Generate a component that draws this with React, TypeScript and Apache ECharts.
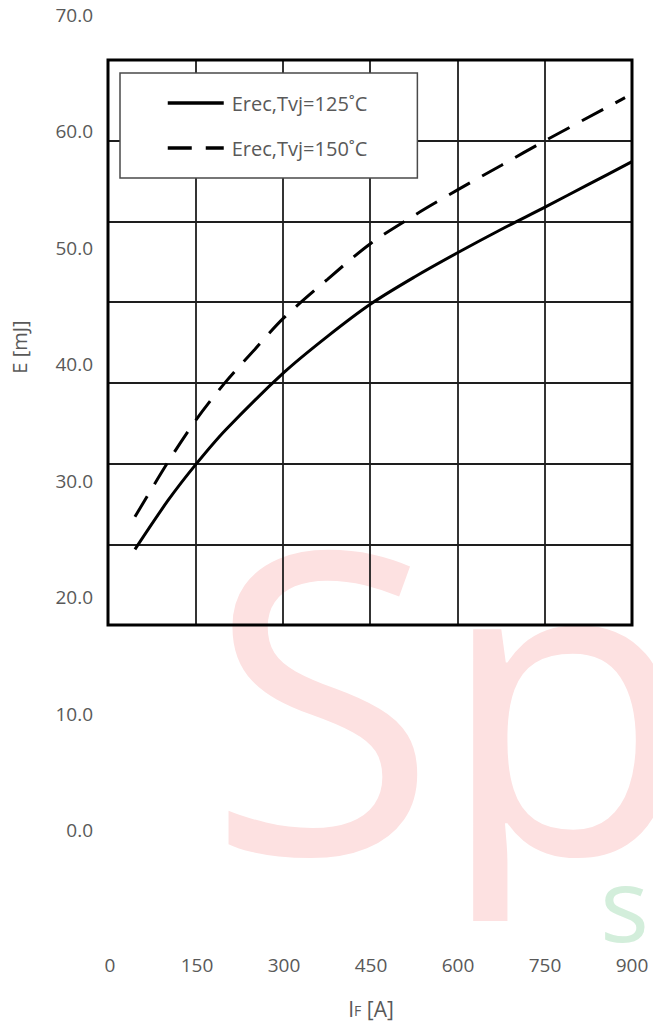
import React, { useEffect, useRef } from "react";
import * as echarts from "echarts";

// Forward current [A] and reverse recovery energy [mJ]
const current125 = [43, 100, 148, 200, 300, 375, 450, 525, 600, 675, 750, 825, 900];
const erec125 = [24.1, 28.3, 31.4, 34.4, 39.3, 42.4, 45.2, 47.5, 49.6, 51.6, 53.5, 55.45, 57.4];
const current150 = [43, 100, 148, 198, 250, 300, 375, 450, 525, 600, 675, 750, 888];
const erec150 = [26.9, 31.6, 35.2, 38.4, 41.3, 44.0, 47.3, 50.4, 52.8, 55.0, 57.1, 59.2, 62.9];

const seriesNames = ["Erec,Tvj=125˚C", "Erec,Tvj=150˚C"];
const yName = "E [mJ]";
const xMin = 0, xMax = 900, xStep = 150;
const yMin = -10, yMax = 70, yStep = 10;

const FONT = "'Open Sans', 'Noto Sans', sans-serif";
const GREY = "#595959";

export default function App() {
  const ref = useRef<HTMLDivElement>(null);
  useEffect(() => {
    document.body.style.margin = "0";
    document.body.style.overflow = "hidden";
    const chart = echarts.init(ref.current!, null, { renderer: "svg" });
    const toPairs = (xs: number[], ys: number[]) => xs.map((x, i) => [x, ys[i]]);
    chart.setOption({
      animation: false,
      backgroundColor: "#fff",
      grid: [
        { left: 110, right: 21, top: 15, bottom: 80.6, show: false },
        { left: 108, right: 21, top: 60, bottom: 402, show: true, borderColor: "#000", borderWidth: 3, backgroundColor: "transparent", z: 1 },
      ],
      xAxis: [
        {
          gridIndex: 0, type: "value", min: xMin, max: xMax, interval: xStep,
          axisLine: { show: false }, axisTick: { show: false }, splitLine: { show: false },
          axisLabel: { color: GREY, fontSize: 19, fontFamily: FONT, margin: 9 },
          name: "{a|I}{b|F}{a| [A]}", nameLocation: "middle", nameGap: 52,
          nameTextStyle: {
            rich: {
              a: { fontSize: 21, color: GREY, fontFamily: FONT },
              b: { fontSize: 14, color: GREY, fontFamily: FONT, padding: [4, 0, 0, 0] },
            },
          },
        },
        {
          gridIndex: 1, type: "value", min: 0, max: 6, interval: 1,
          axisLine: { show: false }, axisTick: { show: false }, axisLabel: { show: false },
          splitLine: { show: true, lineStyle: { color: "#1e1e1e", width: 1.8 } },
        },
      ],
      yAxis: [
        {
          gridIndex: 0, type: "value", min: yMin, max: yMax, interval: yStep,
          axisLine: { show: false }, axisTick: { show: false }, splitLine: { show: false },
          axisLabel: {
            color: GREY, fontSize: 19, fontFamily: FONT, margin: 17,
            formatter: (v: number) => (v < 0 ? "" : v.toFixed(1)),
          },
        },
        {
          gridIndex: 1, type: "value", min: 0, max: 7, interval: 1,
          axisLine: { show: false }, axisTick: { show: false }, axisLabel: { show: false },
          splitLine: { show: true, lineStyle: { color: "#1e1e1e", width: 1.8 } },
        },
      ],
      legend: {
        left: 120, top: 73, orient: "vertical",
        itemWidth: 56, itemHeight: 14, itemGap: 25,
        padding: [20, 50, 20, 46],
        borderColor: "#4a4a4a", borderWidth: 1.5, backgroundColor: "#fff",
        itemStyle: { color: "transparent", borderWidth: 0, opacity: 0 },
        lineStyle: { width: 3.5 },
        textStyle: { color: GREY, fontSize: 20, fontFamily: FONT, padding: [0, 0, 0, 3] },
        data: seriesNames,
        z: 5,
      },
      graphic: {
        elements: [
          {
            type: "text", x: 207, y: 691, z: -10, silent: true,
            style: { text: "Sp", fontSize: 420, fontFamily: FONT, fill: "#fde1e1", verticalAlign: "middle" },
          },
          {
            type: "rect", x: 440, y: 921, z: -9, silent: true,
            shape: { width: 100, height: 40 }, style: { fill: "#fff" },
          },
          {
            type: "text", x: 600, y: 902, z: -10, silent: true,
            style: { text: "se", fontSize: 103, fontFamily: FONT, fill: "#d3eedb", verticalAlign: "middle" },
          },
          {
            type: "text", x: 19, y: 347, rotation: Math.PI / 2, silent: true,
            style: { text: yName, fontSize: 20, fontFamily: FONT, fill: GREY, align: "center", verticalAlign: "middle" },
          },
        ],
      },
      series: [
        {
          name: seriesNames[0], type: "line", xAxisIndex: 0, yAxisIndex: 0,
          data: toPairs(current125, erec125), symbol: "none", showSymbol: false, smooth: 0.3,
          lineStyle: { color: "#000", width: 3, type: "solid" }, itemStyle: { color: "#000" }, z: 10,
        },
        {
          name: seriesNames[1], type: "line", xAxisIndex: 0, yAxisIndex: 0,
          data: toPairs(current150, erec150), symbol: "none", showSymbol: false, smooth: 0.3,
          lineStyle: { color: "#000", width: 3, type: [24, 14] }, itemStyle: { color: "#000" }, z: 10,
        },
      ],
    });
    return () => chart.dispose();
  }, []);
  return <div ref={ref} style={{ width: 653, height: 1027 }} />;
}
